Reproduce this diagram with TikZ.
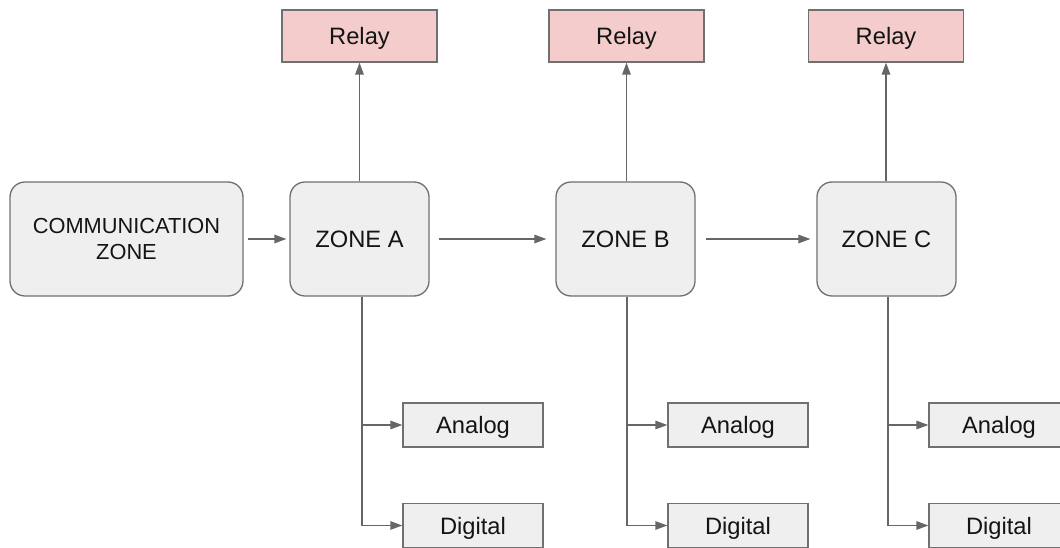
\documentclass[tikz,border=0pt]{standalone}
\usepackage{fontspec}
\setmainfont{Liberation Sans}
\usetikzlibrary{arrows.meta}
\definecolor{boxgray}{HTML}{EFEFEF}
\definecolor{relayred}{HTML}{F4CCCC}
\definecolor{linegray}{HTML}{666666}
\definecolor{edgegray}{HTML}{707070}
\definecolor{textblack}{HTML}{141414}
\tikzset{
  zonebox/.style={draw=edgegray, line width=1.3pt, fill=boxgray, rounded corners=15pt,
    minimum width=139pt, minimum height=114pt, inner sep=0pt, align=center,
    text=textblack, font=\fontsize{23.7}{28}\selectfont},
  relaybox/.style={draw=edgegray, line width=1.3pt, fill=relayred,
    minimum width=155pt, minimum height=52pt, inner sep=0pt, text depth=0pt,
    text=textblack, font=\fontsize{23.7}{28}\selectfont},
  iobox/.style={draw=edgegray, line width=1.3pt, fill=boxgray,
    minimum width=140pt, minimum height=44pt, inner sep=0pt, text depth=0pt,
    text=textblack, font=\fontsize{23.7}{28}\selectfont},
  arr/.style={draw=linegray, line width=1.3pt, -{Triangle[length=12pt,width=8.5pt]}},
}
\begin{document}
\begin{tikzpicture}[x=1pt,y=-1pt]
\useasboundingbox (0,0) rectangle (1060,548);
\clip (0,0) rectangle (1060,548);

\node[zonebox, minimum width=233pt, font=\fontsize{21.8}{26}\selectfont] (comm) at (126.5,239) {COMMUNICATION\\ZONE};
\node[zonebox] (zA) at (359.5,239) {ZONE A};
\node[zonebox] (zB) at (625.5,239) {ZONE B};
\node[zonebox] (zC) at (886.5,239) {ZONE C};

\node[relaybox] (rA) at (359.5,36) {Relay};
\node[relaybox] (rB) at (626.5,36) {Relay};
\node[relaybox] (rC) at (886,36) {Relay};

\node[iobox] (aA) at (473,425) {Analog};
\node[iobox] (dA) at (473,525.5) {Digital};
\node[iobox] (aB) at (738,425) {Analog};
\node[iobox] (dB) at (738,525.5) {Digital};
\node[iobox] (aC) at (999,425) {Analog};
\node[iobox] (dC) at (999,525.5) {Digital};

\draw[arr] ([xshift=4pt]comm.east) -- ([xshift=-3pt]zA.west);
\draw[arr] ([xshift=9pt]zA.east) -- ([xshift=-9pt]zB.west);
\draw[arr] ([xshift=10pt]zB.east) -- ([xshift=-6pt]zC.west);

\draw[arr] (rA.south |- zA.north) -- (rA.south);
\draw[arr] (rB.south |- zB.north) -- (rB.south);
\draw[arr] (rC.south |- zC.north) -- (rC.south);

\draw[arr] ([xshift=2.5pt]zA.south) |- (aA.west);
\draw[arr] ([xshift=2.5pt]zA.south) |- (dA.west);
\draw[arr] ([xshift=1.5pt]zB.south) |- (aB.west);
\draw[arr] ([xshift=1.5pt]zB.south) |- (dB.west);
\draw[arr] ([xshift=1.5pt]zC.south) |- (aC.west);
\draw[arr] ([xshift=1.5pt]zC.south) |- (dC.west);
\end{tikzpicture}
\end{document}
